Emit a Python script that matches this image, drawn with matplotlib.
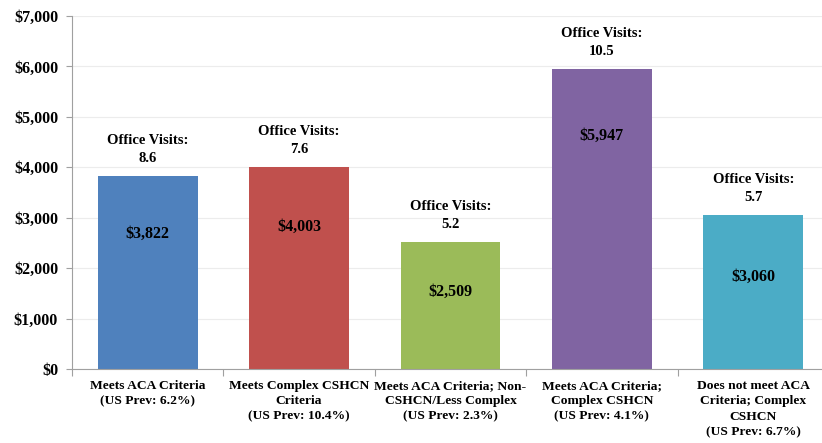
import matplotlib.pyplot as plt
from matplotlib.ticker import FuncFormatter

# data
categories = ["Meets ACA Criteria\n(US Prev: 6.2%)",
              "Meets Complex CSHCN\nCriteria\n(US Prev: 10.4%)",
              "Meets ACA Criteria; Non-\nCSHCN/Less Complex\n(US Prev: 2.3%)",
              "Meets ACA Criteria;\nComplex CSHCN\n(US Prev: 4.1%)",
              "Does not meet ACA\nCriteria; Complex\nCSHCN\n(US Prev: 6.7%)"]
costs = [3822, 4003, 2509, 5947, 3060]
visits = [8.6, 7.6, 5.2, 10.5, 5.7]
colors = ["#4F81BD", "#C0504D", "#9BBB59", "#8064A2", "#4BACC6"]

# where the cost labels sit inside the bars (hand placed in the original)
label_y = [2680, 2820, 1530, 4620, 1830]

plt.rcParams['font.family'] = ['Liberation Serif', 'DejaVu Serif']
plt.rcParams['font.weight'] = 'bold'

fig = plt.figure(figsize=(8.22, 4.43), dpi=100)
ax = fig.add_axes([72/822, 74/443, 757/822, 353/443])

x = range(len(costs))
ax.bar(x, costs, width=0.66, color=colors, zorder=2)

for i in x:
    ax.text(i, label_y[i], "${:,}".format(costs[i]), ha='center', va='center',
            fontsize=11.5, fontweight='bold', zorder=3)
    ax.annotate("Office Visits:\n{}".format(visits[i]), (i, costs[i]),
                xytext=(0, 8), textcoords='offset points', ha='center',
                va='bottom', fontsize=10.5, fontweight='bold', linespacing=1.5)

ax.set_ylim(0, 7000)
ax.set_xlim(-0.5, 4.5)
ax.set_yticks(range(0, 7001, 1000))
ax.yaxis.set_major_formatter(FuncFormatter(lambda v, p: "${:,.0f}".format(v)))
ax.set_xticks([i + 0.5 for i in range(-1, 5)], minor=False)
ax.set_xticklabels([])
ax.set_xticks(list(x), minor=True)
ax.set_xticklabels(categories, minor=True, fontsize=9.7, fontweight='bold',
                   linespacing=1.37)
ax.tick_params(axis='x', which='minor', length=0, pad=8)
ax.tick_params(axis='x', which='major', length=5, color='#a0a0a0')
ax.tick_params(axis='y', length=4, color='#a0a0a0', labelsize=11.5, pad=6)
ax.grid(axis='y', color='#ececec', linewidth=0.8, zorder=0)

for s in ['top', 'right']:
    ax.spines[s].set_visible(False)
for s in ['left', 'bottom']:
    ax.spines[s].set_color('#a0a0a0')

fig.savefig("out.png", dpi=100)
